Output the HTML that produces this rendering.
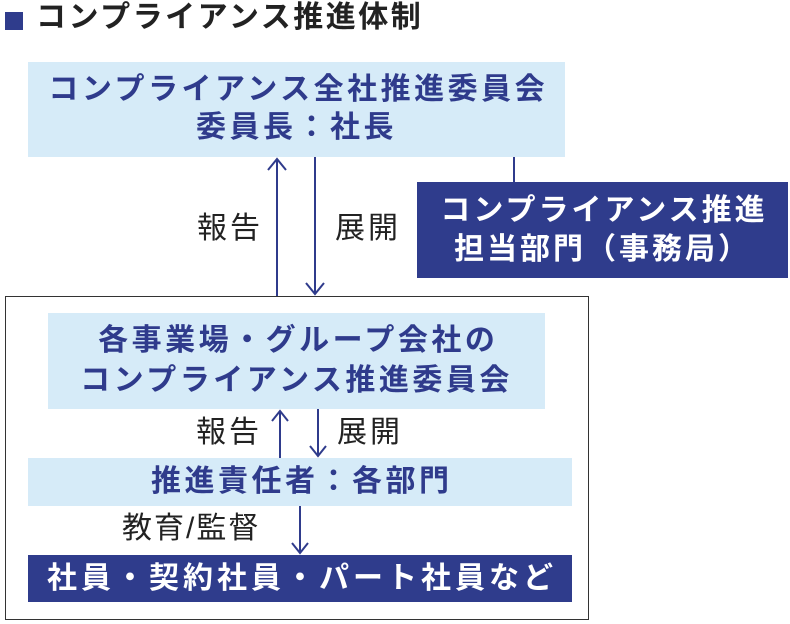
<!DOCTYPE html>
<html><head><meta charset="utf-8"><style>
body{margin:0;width:790px;height:624px;background:#fff;position:relative;overflow:hidden;font-family:"Liberation Sans","Noto Sans CJK JP",sans-serif;}
.a{position:absolute;white-space:nowrap;}
.lb{background:#d6ebf8;color:#2f3b8c;font-weight:bold;text-align:center;font-size:30px;letter-spacing:3.5px;text-indent:3.5px}
.db{background:#2f3c8c;color:#fff;font-weight:bold;text-align:center;font-size:30px;letter-spacing:3px;text-indent:3px}
.k{color:#222;font-size:30px;letter-spacing:3px;}
</style></head><body>
<div class="a" style="left:5px;top:12px;width:18px;height:18px;background:#2f3c8c"></div>
<div class="a" style="left:36px;top:0px;font-size:30px;letter-spacing:2.5px;font-weight:bold;color:#222;line-height:36px">コンプライアンス推進体制</div>

<div class="a lb" style="left:28px;top:62px;width:537px;height:95px;line-height:38px;padding-top:9px;box-sizing:border-box">コンプライアンス全社推進委員会<br>委員長：社長</div>

<div class="a db" style="left:417px;top:182px;width:371px;height:96px;line-height:39px;padding-top:9px;box-sizing:border-box">コンプライアンス推進<br>担当部門（事務局）</div>

<div class="a k" style="left:197px;top:209px;line-height:40px">報告</div>
<div class="a k" style="left:335px;top:209px;line-height:40px">展開</div>

<div class="a" style="left:5px;top:296px;width:584px;height:324px;border:1.5px solid #333;box-sizing:border-box"></div>

<div class="a lb" style="left:48px;top:313px;width:497px;height:96px;line-height:40px;padding-top:8px;box-sizing:border-box">各事業場・グループ会社の<br>コンプライアンス推進委員会</div>

<div class="a k" style="left:196px;top:413px;line-height:40px">報告</div>
<div class="a k" style="left:337px;top:413px;line-height:40px">展開</div>

<div class="a lb" style="left:28px;top:458px;width:544px;height:48px;line-height:48px">推進責任者：各部門</div>

<div class="a k" style="left:122px;top:509px;line-height:40px;letter-spacing:2px">教育/監督</div>

<div class="a db" style="left:28px;top:555px;width:544px;height:47px;line-height:47px;letter-spacing:4px;text-indent:4px">社員・契約社員・パート社員など</div>

<svg class="a" style="left:0;top:0" width="790" height="624">
<g stroke="#2f3b8c" stroke-width="2" fill="none">
<line x1="277" y1="160" x2="277" y2="296"/><polyline points="268,170 277,159 286,170"/>
<line x1="315" y1="157" x2="315" y2="294"/><polyline points="306,283 315,294 324,283"/>
<line x1="514" y1="157" x2="514" y2="182"/>
<line x1="280" y1="411" x2="280" y2="458"/><polyline points="272,421 280,411 288,421"/>
<line x1="318" y1="409" x2="318" y2="456"/><polyline points="310,446 318,456 326,446"/>
<line x1="300" y1="506" x2="300" y2="553"/><polyline points="292,543 300,553 308,543"/>
</g></svg>
</body></html>
